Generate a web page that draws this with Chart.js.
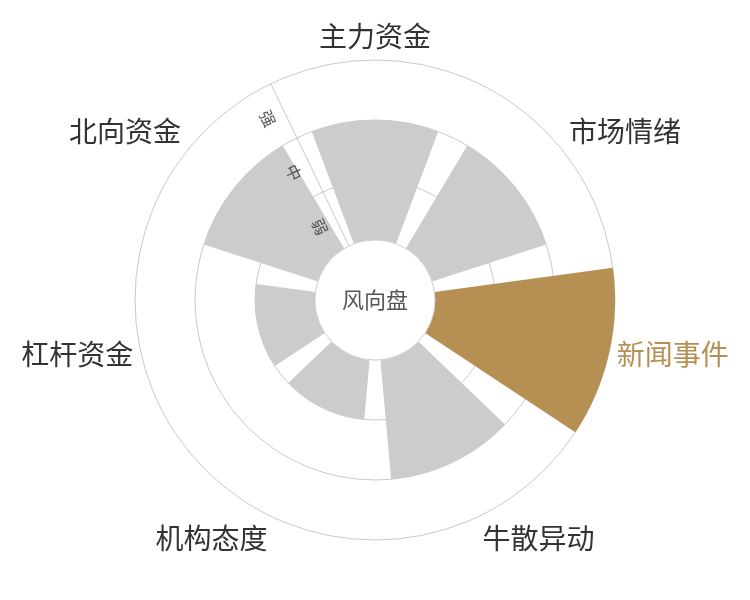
<!DOCTYPE html>
<html lang="zh">
<head>
<meta charset="utf-8">
<title>风向盘</title>
<script src="https://cdn.jsdelivr.net/npm/chart.js@4.4.0/dist/chart.umd.min.js"></script>
<style>
    html, body { margin: 0; padding: 0; background: #fff; }
    canvas { display: block; }
</style>
</head>
<body>
<canvas id="windChart" width="750" height="600"></canvas>
<script>
// Chart data
const categories = ['主力资金', '市场情绪', '新闻事件', '牛散异动', '机构态度', '杠杆资金', '北向资金'];
const strengthValues = [2, 2, 3, 2, 1, 1, 2];
const levelLabels = ['弱', '中', '强'];
const highlightIndex = 2;
const centerTitle = '风向盘';

// Colors
const barGray = '#cccccc';
const barGold = '#b59052';
const gridGray = '#c9c9c9';
const fontFamily = '"Noto Sans CJK SC", "Noto Sans", sans-serif';

// Shrink every sector so there is a gap between neighbours (20% of a category)
const sectorGapPlugin = {
    id: 'sectorGap',
    afterDatasetsUpdate(chart) {
        const scale = chart.scales.r;
        const hole = scale.getDistanceFromCenterForValue(0);
        chart.getDatasetMeta(0).data.forEach(arc => {
            const trim = (arc.endAngle - arc.startAngle) * 0.1;
            arc.startAngle += trim;
            arc.endAngle -= trim;
            arc.innerRadius = hole;
        });
    }
};

// Center hole, category labels and level labels
const labelPlugin = {
    id: 'windLabels',
    afterDraw(chart) {
        const ctx = chart.ctx;
        const scale = chart.scales.r;
        const cx = scale.xCenter;
        const cy = scale.yCenter;
        const step = (Math.PI * 2) / categories.length;

        // Center hole
        const hole = scale.getDistanceFromCenterForValue(0);
        ctx.save();
        ctx.beginPath();
        ctx.arc(cx, cy, hole, 0, Math.PI * 2);
        ctx.fillStyle = '#ffffff';
        ctx.fill();
        ctx.lineWidth = 1;
        ctx.strokeStyle = '#d4d4d4';
        ctx.stroke();
        ctx.fillStyle = '#555555';
        ctx.font = '22px ' + fontFamily;
        ctx.textAlign = 'center';
        ctx.textBaseline = 'middle';
        ctx.fillText(centerTitle, cx, cy);
        ctx.restore();

        // Category labels outside the ring
        const outer = scale.getDistanceFromCenterForValue(scale.max) + 8;
        ctx.save();
        ctx.font = '28px ' + fontFamily;
        ctx.textBaseline = 'middle';
        categories.forEach((name, i) => {
            const a = scale.getIndexAngle(i) + step / 2;
            const s = Math.sin(a);
            const c = Math.cos(a);
            const x = cx + outer * s;
            // above the ring: sit on top, below: hang under, sides: centred
            const shift = c > 0.3 ? -(10 + 6 * c) : (c < -0.5 ? 15 : -1);
            const y = cy - outer * c + shift;
            ctx.textAlign = s > 0.05 ? 'left' : (s < -0.05 ? 'right' : 'center');
            ctx.fillStyle = i === highlightIndex ? barGold : '#333333';
            ctx.fillText(name, x, y);
        });
        ctx.restore();

        // Level labels along the radial axis
        const a0 = scale.getIndexAngle(0);
        const ux = Math.sin(a0);
        const uy = -Math.cos(a0);
        const nx = uy;
        const ny = -ux;
        ctx.save();
        ctx.font = '16px ' + fontFamily;
        ctx.fillStyle = '#555555';
        ctx.textAlign = 'center';
        ctx.textBaseline = 'middle';
        levelLabels.forEach((lv, k) => {
            const d = scale.getDistanceFromCenterForValue(k + 0.5);
            const x = cx + d * ux + 18 * nx;
            const y = cy + d * uy + 18 * ny;
            ctx.save();
            ctx.translate(x, y);
            ctx.rotate(Math.atan2(-uy, -ux));
            ctx.fillText(lv, 0, 0);
            ctx.restore();
        });
        ctx.restore();
    }
};

Chart.defaults.font.family = fontFamily;

const windChart = new Chart(document.getElementById('windChart'), {
    type: 'polarArea',
    data: {
        labels: categories,
        datasets: [{
            data: strengthValues,
            backgroundColor: strengthValues.map((v, i) => i === highlightIndex ? barGold : barGray),
            borderWidth: 0
        }]
    },
    options: {
        responsive: false,
        animation: false,
        events: [],
        layout: {
            padding: { top: 60, bottom: 60, left: 0, right: 0 }
        },
        plugins: {
            legend: { display: false },
            tooltip: { enabled: false }
        },
        scales: {
            r: {
                min: -1,
                max: 3,
                startAngle: -180 / categories.length,
                ticks: { display: false, stepSize: 1 },
                pointLabels: { display: false },
                grid: {
                    circular: true,
                    color: gridGray,
                    lineWidth: 1
                },
                angleLines: {
                    display: true,
                    color: (c) => c.index === 0 ? gridGray : 'rgba(0,0,0,0)',
                    lineWidth: 1
                }
            }
        }
    },
    plugins: [sectorGapPlugin, labelPlugin]
});
</script>
</body>
</html>
